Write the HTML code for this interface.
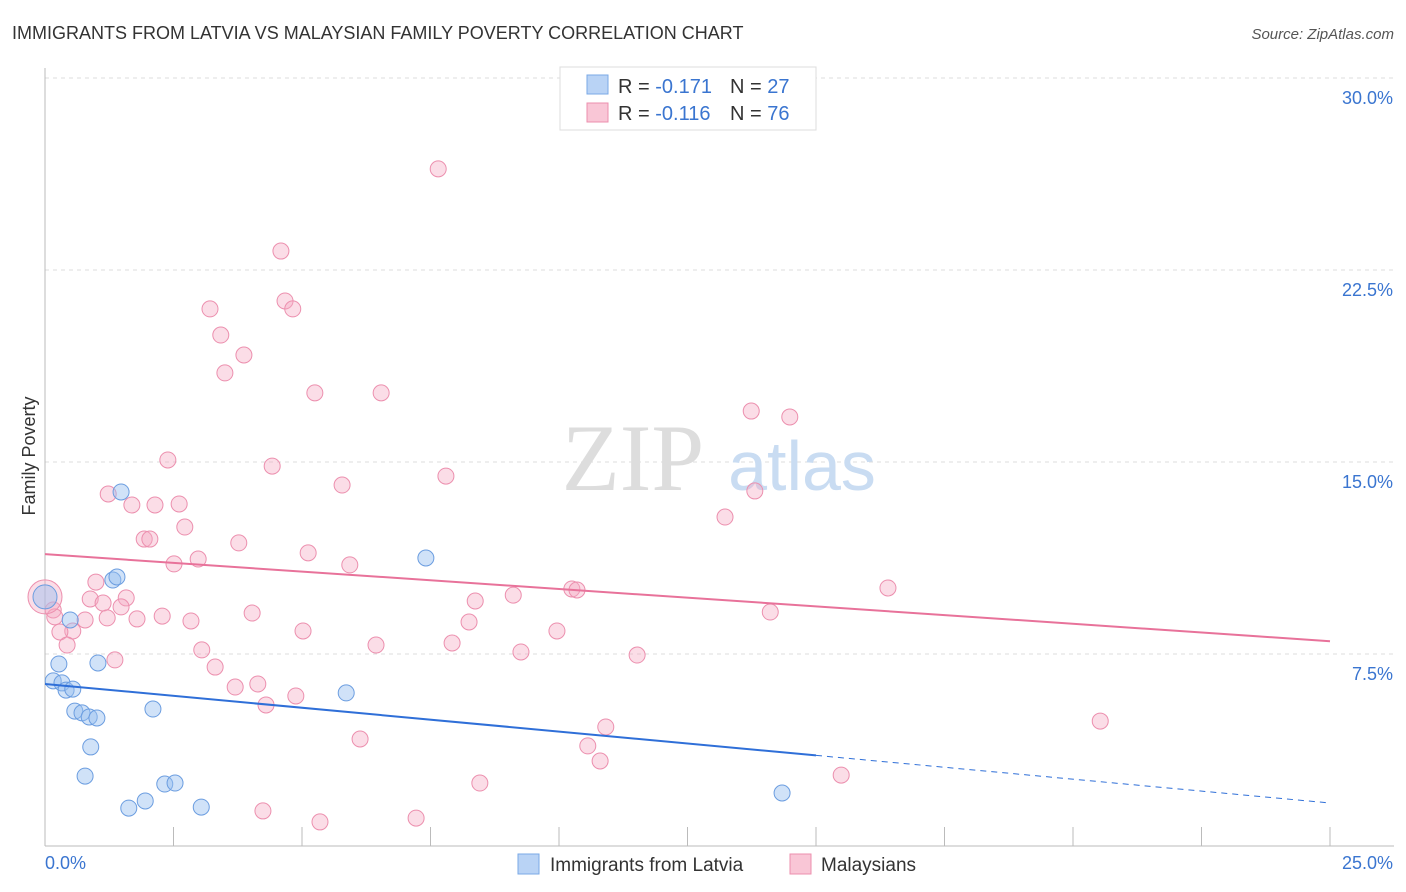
<!DOCTYPE html>
<html><head><meta charset="utf-8"><style>
body{margin:0;background:#fff;font-family:"Liberation Sans",sans-serif;}
svg{display:block}
</style></head><body>
<svg id="chart" width="1406" height="892">
<text x="12" y="39" font-size="18" fill="#333">IMMIGRANTS FROM LATVIA VS MALAYSIAN FAMILY POVERTY CORRELATION CHART</text>
<text x="1394" y="39" font-size="15" fill="#555" font-style="italic" text-anchor="end">Source: ZipAtlas.com</text>
<g id="grid"></g>
<text x="633" y="490" font-size="95" fill="#ddd" font-family="Liberation Serif,serif" text-anchor="middle">ZIP</text>
<text x="802" y="490" font-size="70" fill="#c9dcf2" text-anchor="middle">atlas</text>
<text x="35" y="456" font-size="18" fill="#333" text-anchor="middle" transform="rotate(-90 35 456)">Family Poverty</text>
<g id="marks"></g>
<g>
<rect x="560" y="67" width="256" height="63" fill="#fff" stroke="#ddd"/>
<rect x="587" y="75" width="21" height="19" fill="#b9d3f5" stroke="#7aa8e6"/>
<rect x="587" y="103" width="21" height="19" fill="#f9c6d6" stroke="#ec8fae"/>
<text x="618" y="93" font-size="20" fill="#333">R = <tspan fill="#3a75d0">-0.171</tspan><tspan x="730">N = </tspan><tspan fill="#3a75d0">27</tspan></text>
<text x="618" y="120" font-size="20" fill="#333">R = <tspan fill="#3a75d0">-0.116</tspan><tspan x="730">N = </tspan><tspan fill="#3a75d0">76</tspan></text>
</g>
<g>
<rect x="518" y="854" width="21" height="20" fill="#b9d3f5" stroke="#7aa8e6"/>
<text x="550" y="871" font-size="19" fill="#333">Immigrants from Latvia</text>
<rect x="790" y="854" width="21" height="20" fill="#f9c6d6" stroke="#ec8fae"/>
<text x="821" y="871" font-size="19" fill="#333">Malaysians</text>
</g>
</svg>
<script>
const yTicks=[7.5,15,22.5,30];
const yTickLabels=["7.5%","15.0%","22.5%","30.0%"];
const xTicks=[0,2.5,5,7.5,10,12.5,15,17.5,20,22.5,25];
const blueX=[0,0.16,0.27,0.33,0.41,0.54,0.49,0.58,0.72,0.86,1.01,1.03,0.89,0.78,1.32,1.40,1.48,2.10,1.63,1.95,2.33,2.53,3.04,5.86,7.41,14.34];
const blueY=[9.73,6.45,7.11,6.37,6.09,6.13,8.83,5.27,5.20,5.04,5.00,7.15,3.87,2.73,10.39,10.51,13.83,5.35,1.48,1.76,2.42,2.46,1.52,5.98,11.25,2.07];
const pinkX=[7.65,4.59,3.21,4.67,4.82,3.42,3.87,3.50,5.25,6.54,13.74,14.49,2.39,4.42,7.80,5.78,13.81,1.23,1.69,2.14,2.61,2.72,13.23,1.93,2.04,3.77,5.12,2.98,2.51,5.93,0.99,10.25,10.35,16.40,9.11,8.37,0.88,1.13,1.58,1.48,0.16,0.19,1.21,0.78,1.79,2.28,2.84,4.03,14.11,8.25,5.02,9.96,0.54,0.29,0.43,6.44,7.92,9.26,11.52,3.05,1.36,3.31,3.70,4.14,4.88,4.30,10.91,20.53,6.13,10.56,10.80,8.46,15.49,4.24,5.35,7.22,0];
const pinkY=[26.45,23.24,20.98,21.29,20.98,19.96,19.18,18.48,17.70,17.70,16.99,16.76,15.08,14.84,14.45,14.10,13.87,13.75,13.32,13.32,13.36,12.46,12.85,11.99,11.99,11.84,11.45,11.21,11.02,10.98,10.31,10.04,10.00,10.08,9.80,9.57,9.65,9.49,9.69,9.34,9.22,8.95,8.91,8.83,8.87,8.98,8.79,9.10,9.14,8.75,8.40,8.40,8.40,8.36,7.85,7.85,7.93,7.58,7.46,7.66,7.27,6.99,6.21,6.33,5.86,5.51,4.65,4.88,4.18,3.91,3.32,2.46,2.77,1.37,0.94,1.09,9.73];
const blueTrend=[6.33,1.68];
const pinkTrend=[11.4,8.0];
const X=v=>45+v*51.4, Y=v=>846-v*25.6;
const NS="http://www.w3.org/2000/svg";
function mk(tag,attrs,parent){const e=document.createElementNS(NS,tag);for(const k in attrs)e.setAttribute(k,attrs[k]);parent.appendChild(e);return e;}
const grid=document.getElementById('grid');
yTicks.forEach((t,i)=>{
 const l=mk('line',{x1:45,x2:1394,y1:Y(t),y2:Y(t),stroke:'#ddd','stroke-dasharray':'4,4'},grid);
 
 
 const tx=mk('text',{x:1393,y:Y(t)+26,'font-size':18,fill:'#3a75d0','text-anchor':'end'},grid);
 tx.textContent=yTickLabels[i];
 
 
});
const ax=mk('line',{x1:45,x2:45,y1:68,y2:846,stroke:'#bbb'},grid);


const bx=mk('line',{x1:45,x2:1394,y1:846,y2:846,stroke:'#bbb'},grid);


xTicks.forEach(t=>{const l=mk('line',{x1:X(t),x2:X(t),y1:827,y2:846,stroke:'#bbb'},grid);
 
 });
const x0=mk('text',{x:45,y:869,'font-size':18,fill:'#3a75d0'},grid);x0.textContent='0.0%';


const x1=mk('text',{x:1393,y:869,'font-size':18,fill:'#3a75d0','text-anchor':'end'},grid);x1.textContent='25.0%';


const marks=document.getElementById('marks');
pinkX.forEach((x,i)=>{const big=i===pinkX.length-1;
 const c=mk('circle',{cx:X(x),cy:Y(pinkY[i]),r:big?17:8,fill:'rgba(245,170,195,0.4)',stroke:'#ec8fae','stroke-width':1},marks);
 
 });
blueX.forEach((x,i)=>{const big=i===0;
 const c=mk('circle',{cx:X(x),cy:Y(blueY[i]),r:big?12:8,fill:'rgba(150,190,240,0.45)',stroke:'#6b9de0','stroke-width':1},marks);
 
 });
const bAt=x=>blueTrend[0]+(blueTrend[1]-blueTrend[0])*x/25;
const t1=mk('line',{x1:X(0),y1:Y(bAt(0)),x2:X(15),y2:Y(bAt(15)),stroke:'#2f6fd8','stroke-width':2},marks);


const t2=mk('line',{x1:X(15),y1:Y(bAt(15)),x2:X(25),y2:Y(bAt(25)),stroke:'#2f6fd8','stroke-width':1,'stroke-dasharray':'6,5'},marks);


const t3=mk('line',{x1:X(0),y1:Y(pinkTrend[0]),x2:X(25),y2:Y(pinkTrend[1]),stroke:'#e8729a','stroke-width':2},marks);


</script>
</body></html>
